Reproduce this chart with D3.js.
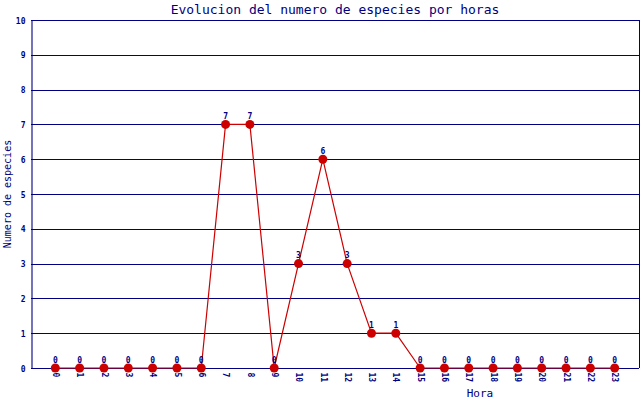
<!DOCTYPE html>
<html>
<head>
<meta charset="utf-8">
<script src="https://cdn.jsdelivr.net/npm/d3@7"></script>
<style>
  body { margin: 0; background: #fff; }
  text { font-family: "DejaVu Sans Mono", monospace; fill: #000080; }
</style>
</head>
<body>
<svg id="canvas"></svg>
<script>
let horas = ['0','1','2','3','4','5','6','7','8','9','10','11','12','13','14','15','16','17','18','19','20','21','22','23']
let especies = [0,0,0,0,0,0,0,7,7,0,3,6,3,1,1,0,0,0,0,0,0,0,0,0]
let yTicks = [0,1,2,3,4,5,6,7,8,9,10]

const width = 640
const height = 400
const plotLeft = 31
const plotRight = 639
const plotTop = 20
const plotBottom = 368

let svg = d3.select('#canvas').attr('width', width).attr('height', height)

let xScale = d3.scaleLinear().domain([-1, horas.length]).range([plotLeft, plotRight])
let yScale = d3.scaleLinear().domain([0, 10]).range([plotBottom, plotTop])

// gridlines
svg.append('g')
    .selectAll('line')
    .data(yTicks)
    .enter()
    .append('line')
    .attr('x1', plotLeft)
    .attr('x2', plotRight)
    .attr('y1', (d) => Math.round(yScale(d)) + 0.5)
    .attr('y2', (d) => Math.round(yScale(d)) + 0.5)
    .attr('stroke', '#000080')
    .attr('stroke-width', 1.1)

// right border
svg.append('line')
    .attr('x1', plotRight + 0.5).attr('x2', plotRight + 0.5)
    .attr('y1', plotTop).attr('y2', plotBottom)
    .attr('stroke', '#000080')

// y axis
let yAxis = d3.axisLeft(yScale).tickValues(yTicks).tickSize(0).tickPadding(6)
let gy = svg.append('g')
    .attr('transform', 'translate(' + (plotLeft + 0.5) + ',0.5)')
    .call(yAxis)
gy.select('.domain').attr('stroke', '#000080').attr('stroke-width', 1.1)
gy.selectAll('text').style('font-size', '8px').style('font-weight', 'bold').attr('fill', '#000080')

// x axis
let xAxis = d3.axisBottom(xScale)
    .tickValues(horas.map((h, i) => i))
    .tickFormat((i) => horas[i])
    .tickSize(0)
let gx = svg.append('g')
    .attr('transform', 'translate(0,' + (plotBottom + 0.5) + ')')
    .call(xAxis)
gx.select('.domain').remove()
gx.selectAll('text')
    .style('font-size', '8px')
    .style('font-weight', 'bold')
    .attr('fill', '#000080')
    .attr('text-anchor', 'start')
    .attr('dy', '0.35em')
    .attr('transform', 'translate(0,4) rotate(90)')
    .attr('y', 0)
    .attr('x', 0)

// line
let line = d3.line()
    .x((d, i) => xScale(i))
    .y((d) => yScale(d))

svg.append('path')
    .datum(especies)
    .attr('d', line)
    .attr('fill', 'none')
    .attr('stroke', '#cc0000')
    .attr('stroke-width', 1.2)

svg.append('g')
    .selectAll('circle')
    .data(especies)
    .enter()
    .append('circle')
    .attr('cx', (d, i) => xScale(i))
    .attr('cy', (d) => yScale(d))
    .attr('r', 4.5)
    .attr('fill', '#cc0000')

svg.append('g')
    .selectAll('text')
    .data(especies)
    .enter()
    .append('text')
    .attr('x', (d, i) => xScale(i))
    .attr('y', (d) => yScale(d) - 5.5)
    .attr('text-anchor', 'middle')
    .style('font-size', '8px')
    .style('font-weight', 'bold')
    .text((d) => d)

// title and labels
svg.append('text')
    .attr('x', 335)
    .attr('y', 14)
    .attr('text-anchor', 'middle')
    .style('font-size', '13px')
    .text('Evolucion del numero de especies por horas')

svg.append('text')
    .attr('x', 480)
    .attr('y', 397)
    .attr('text-anchor', 'middle')
    .style('font-size', '11px')
    .text('Hora')

svg.append('text')
    .attr('transform', 'translate(11,194) rotate(-90)')
    .attr('text-anchor', 'middle')
    .style('font-size', '10px')
    .text('Numero de especies')
</script>
</body>
</html>
